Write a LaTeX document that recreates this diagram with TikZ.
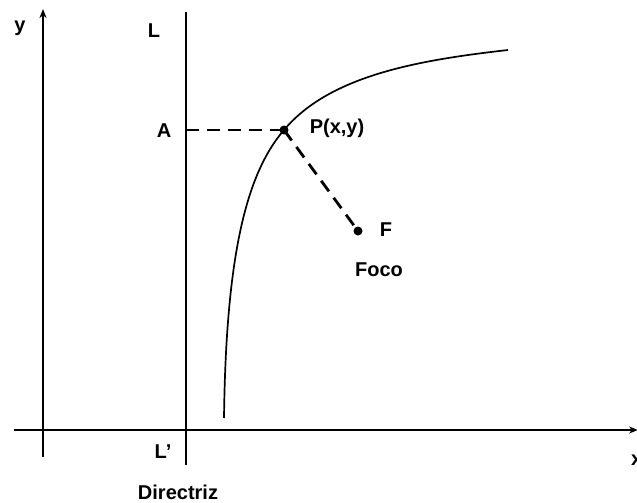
\documentclass[tikz,border=0pt]{standalone}
\usepackage{fontspec}
\setmainfont{Liberation Sans}
\usetikzlibrary{arrows.meta}
\begin{document}
\begin{tikzpicture}[x=1pt,y=-1pt,
  axis/.style={line width=2.7pt},
  lbl/.style={font=\fontsize{20}{22}\selectfont\bfseries, inner sep=0pt},
  dsh/.style={line width=2.8pt, dash pattern=on 13pt off 8pt},
  dot/.style={circle, fill=black, inner sep=0pt, minimum size=9pt}]
\useasboundingbox (0,0) rectangle (637,503);
% coordinates
\coordinate (yb) at (43,457);
\coordinate (yt) at (43,9);
\coordinate (xl) at (14,430);
\coordinate (xr) at (638,430);
\coordinate (dt) at (186,12);
\coordinate (db) at (186,465);
\coordinate (dA) at (186,130);
\coordinate (c0) at (224,418);
\coordinate (c1) at (508,50);
\node[dot] (P) at (284,130) {};
\node[dot] (F) at (358,231) {};
% axes
\draw[axis, -{Stealth[length=9pt,width=7pt]}] (yb) -- (yt);
\draw[axis, -{Stealth[length=9pt,width=7pt]}] (xl) -- (xr);
\draw[axis] (dt) -- (db);
% curve
\draw[line width=1.7pt] (c0) .. controls (226,260) and (245,175) .. (P.center)
  .. controls (330,75) and (420,60) .. (c1);
% dashed
\draw[dsh] (dA) -- (P.center);
\draw[dsh] (P.center) -- (F.center);
% labels
\node[lbl] (ly) at (20,28) {y};
\node[lbl] (lL) at (154,31) {L};
\node[lbl] (lA) at (164,131) {A};
\node[lbl] (lLp) at (163,452) {L’};
\node[lbl] (lD) at (178,492) {Directriz};
\node[lbl, anchor=west] (lx) at (631,460) {x};
\node[lbl] (lP) at (337,128) {P(x,y)};
\node[lbl] (lF) at (386,230) {F};
\node[lbl] (lFoco) at (379,270) {Foco};
\end{tikzpicture}
\end{document}
